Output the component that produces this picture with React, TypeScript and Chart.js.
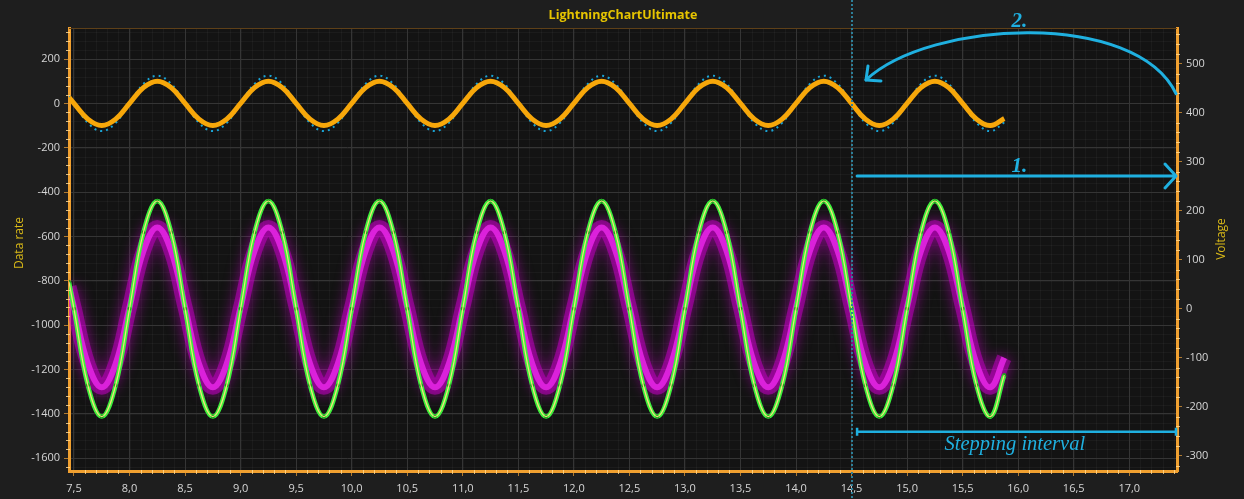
import React, { useEffect, useRef } from 'react';
import { Chart, registerables } from 'chart.js';

Chart.register(...registerables);

// ---------- data ----------
const xValues = [
  7.455,
  7.5, 7.625, 7.75, 7.875, 8.0, 8.125, 8.25, 8.375,
  8.5, 8.625, 8.75, 8.875, 9.0, 9.125, 9.25, 9.375,
  9.5, 9.625, 9.75, 9.875, 10.0, 10.125, 10.25, 10.375,
  10.5, 10.625, 10.75, 10.875, 11.0, 11.125, 11.25, 11.375,
  11.5, 11.625, 11.75, 11.875, 12.0, 12.125, 12.25, 12.375,
  12.5, 12.625, 12.75, 12.875, 13.0, 13.125, 13.25, 13.375,
  13.5, 13.625, 13.75, 13.875, 14.0, 14.125, 14.25, 14.375,
  14.5, 14.625, 14.75, 14.875, 15.0, 15.125, 15.25, 15.375,
  15.5, 15.625, 15.75, 15.875,
];

// Data rate (left axis)
const dataRate = [
  27,
  0, -71, -100, -71, 0, 71, 100, 71,
  0, -71, -100, -71, 0, 71, 100, 71,
  0, -71, -100, -71, 0, 71, 100, 71,
  0, -71, -100, -71, 0, 71, 100, 71,
  0, -71, -100, -71, 0, 71, 100, 71,
  0, -71, -100, -71, 0, 71, 100, 71,
  0, -71, -100, -71, 0, 71, 100, 71,
  0, -71, -100, -71, 0, 71, 100, 71,
  0, -71, -100, -68,
];

// Data rate envelope (dotted, left axis)
const dataRateEnvelope = [
  34,
  0, -88, -125, -88, 0, 88, 125, 88,
  0, -88, -125, -88, 0, 88, 125, 88,
  0, -88, -125, -88, 0, 88, 125, 88,
  0, -88, -125, -88, 0, 88, 125, 88,
  0, -88, -125, -88, 0, 88, 125, 88,
  0, -88, -125, -88, 0, 88, 125, 88,
  0, -88, -125, -88, 0, 88, 125, 88,
  0, -88, -125, -88, 0, 88, 125, 88,
  0, -88, -125, -86,
];

// Voltage (right axis)
const voltage = [
  55,
  0, -156, -220, -156, 0, 156, 220, 156,
  0, -156, -220, -156, 0, 156, 220, 156,
  0, -156, -220, -156, 0, 156, 220, 156,
  0, -156, -220, -156, 0, 156, 220, 156,
  0, -156, -220, -156, 0, 156, 220, 156,
  0, -156, -220, -156, 0, 156, 220, 156,
  0, -156, -220, -156, 0, 156, 220, 156,
  0, -156, -220, -156, 0, 156, 220, 156,
  0, -156, -220, -135,
];

// Voltage measured (magenta glow, right axis)
const voltageMeasured = [
  45,
  3, -112, -160, -112, 3, 118, 166, 118,
  3, -112, -160, -112, 3, 118, 166, 118,
  3, -112, -160, -112, 3, 118, 166, 118,
  3, -112, -160, -112, 3, 118, 166, 118,
  3, -112, -160, -112, 3, 118, 166, 118,
  3, -112, -160, -112, 3, 118, 166, 118,
  3, -112, -160, -112, 3, 118, 166, 118,
  3, -112, -160, -112, 3, 118, 166, 118,
  3, -112, -160, -100,
];

// tick labels
const xTicks = [7.5, 8.0, 8.5, 9.0, 9.5, 10.0, 10.5, 11.0, 11.5, 12.0, 12.5, 13.0, 13.5, 14.0, 14.5, 15.0, 15.5, 16.0, 16.5, 17.0];
const yTicks = [200, 0, -200, -400, -600, -800, -1000, -1200, -1400, -1600];
const y1Ticks = [500, 400, 300, 200, 100, 0, -100, -200, -300];

// axes
const X_MIN = 7.455;
const X_MAX = 17.43;
const X_MINOR = 0.1;
const Y_MIN = -1658;
const Y_MAX = 340;
const Y_STEP = 200;
const Y_MINOR = 40;
const Y1_MIN = -331;
const Y1_MAX = 573;
const Y1_STEP = 100;
const Y1_MINOR = 20;

// annotation anchors (in axis values: x, right-axis)
const markerX = 14.5;
const stepStart = 14.55;
const arrow1Y = 271;
const label1 = { x: 16.01, y: 290, text: '1.' };
const label2 = { x: 16.01, y: 586, text: '2.' };
const curve2 = { start: [X_MAX, 439], c1: [17.06, 610], c2: [15.21, 590], end: [14.63, 467] };
const bracketY = -251;
const bracketLabel = { x: 15.97, y: -278, text: 'Stepping interval' };

const TITLE = 'LightningChartUltimate';
const LEFT_TITLE = 'Data rate';
const RIGHT_TITLE = 'Voltage';

const FONT = "'Open Sans', 'Noto Sans', sans-serif";
const CYAN = '#1fb0e0';

const fmt = (v: number) => v.toFixed(1).replace('.', ',');
const pts = (ys: number[]) => ys.map((y, i) => ({ x: xValues[i], y }));
const setTicks = (list: number[]) => (s: any) => {
  s.ticks = list.map((value) => ({ value }));
};

const bgPlugin = {
  id: 'bgPlugin',
  beforeDraw(chart: any) {
    const { ctx, chartArea: a, width, height } = chart;
    ctx.save();
    ctx.fillStyle = '#1e1e1e';
    ctx.fillRect(0, 0, width, height);
    ctx.fillStyle = '#131313';
    ctx.fillRect(a.left, a.top, a.right - a.left, a.bottom - a.top);
    // minor grid
    const xs = chart.scales.x;
    const ys = chart.scales.y;
    ctx.strokeStyle = 'rgba(255,255,255,0.035)';
    ctx.lineWidth = 1;
    ctx.beginPath();
    for (let i = Math.ceil(X_MIN / X_MINOR); i * X_MINOR <= X_MAX; i++) {
      const px = Math.round(xs.getPixelForValue(i * X_MINOR)) + 0.5;
      ctx.moveTo(px, a.top);
      ctx.lineTo(px, a.bottom);
    }
    for (let i = Math.ceil(Y_MIN / Y_MINOR); i * Y_MINOR <= Y_MAX; i++) {
      const py = Math.round(ys.getPixelForValue(i * Y_MINOR)) + 0.5;
      ctx.moveTo(a.left, py);
      ctx.lineTo(a.right, py);
    }
    ctx.stroke();
    ctx.restore();
  },
};

const glowPlugin = {
  id: 'glowPlugin',
  beforeDatasetDraw(chart: any, args: any) {
    const ds = chart.data.datasets[args.index];
    chart.ctx.save();
    if (ds.glow) {
      chart.ctx.shadowColor = ds.glow;
      chart.ctx.shadowBlur = 14;
    }
  },
  afterDatasetDraw(chart: any) {
    chart.ctx.restore();
  },
};

const overlayPlugin = {
  id: 'overlayPlugin',
  afterDraw(chart: any) {
    const { ctx, chartArea: a, height } = chart;
    const xs = chart.scales.x;
    const ys = chart.scales.y;
    const yr = chart.scales.y1;
    const px = (v: number) => xs.getPixelForValue(v);
    const py = (v: number) => yr.getPixelForValue(v);
    ctx.save();

    // top border
    ctx.strokeStyle = '#5e4018';
    ctx.lineWidth = 1;
    ctx.beginPath();
    ctx.moveTo(a.left, a.top + 0.5);
    ctx.lineTo(a.right, a.top + 0.5);
    ctx.stroke();

    // minor ticks on axis lines
    ctx.strokeStyle = 'rgba(255,214,140,0.85)';
    ctx.lineWidth = 1;
    ctx.beginPath();
    for (let i = Math.ceil(Y_MIN / Y_MINOR); i * Y_MINOR <= Y_MAX; i++) {
      if ((i * Y_MINOR) % Y_STEP === 0) continue;
      const y = Math.round(ys.getPixelForValue(i * Y_MINOR)) + 0.5;
      ctx.moveTo(a.left - 3, y);
      ctx.lineTo(a.left + 1, y);
    }
    for (let i = Math.ceil(Y1_MIN / Y1_MINOR); i * Y1_MINOR <= Y1_MAX; i++) {
      if ((i * Y1_MINOR) % Y1_STEP === 0) continue;
      const y = Math.round(yr.getPixelForValue(i * Y1_MINOR)) + 0.5;
      ctx.moveTo(a.right - 1, y);
      ctx.lineTo(a.right + 3, y);
    }
    for (let i = Math.ceil(X_MIN / X_MINOR); i * X_MINOR <= X_MAX; i++) {
      if (i % 5 === 0) continue;
      const x = Math.round(px(i * X_MINOR)) + 0.5;
      ctx.moveTo(x, a.bottom - 1);
      ctx.lineTo(x, a.bottom + 3);
    }
    ctx.stroke();

    // vertical dotted marker
    ctx.strokeStyle = '#2d7f98';
    ctx.lineWidth = 2;
    ctx.setLineDash([2, 2]);
    ctx.beginPath();
    const mx = Math.round(px(markerX));
    ctx.moveTo(mx, 0);
    ctx.lineTo(mx, height);
    ctx.stroke();
    ctx.setLineDash([]);

    // annotations
    ctx.strokeStyle = CYAN;
    ctx.fillStyle = CYAN;
    ctx.lineWidth = 3;
    ctx.lineCap = 'round';
    ctx.lineJoin = 'round';

    // arrow 1
    const ay = py(arrow1Y);
    const ax0 = px(stepStart);
    const ax1 = px(X_MAX) - 1;
    ctx.beginPath();
    ctx.moveTo(ax0, ay);
    ctx.lineTo(ax1, ay);
    ctx.moveTo(ax1 - 11, ay - 12);
    ctx.lineTo(ax1, ay);
    ctx.lineTo(ax1 - 11, ay + 12);
    ctx.stroke();

    // curved arrow 2
    const s = curve2.start, c1 = curve2.c1, c2 = curve2.c2, e = curve2.end;
    ctx.beginPath();
    ctx.moveTo(px(s[0]) - 1, py(s[1]));
    ctx.bezierCurveTo(px(c1[0]), py(c1[1]), px(c2[0]), py(c2[1]), px(e[0]), py(e[1]));
    ctx.stroke();
    const ex = px(e[0]), ey = py(e[1]);
    ctx.beginPath();
    ctx.moveTo(ex + 15, ey + 1);
    ctx.lineTo(ex, ey);
    ctx.lineTo(ex + 2, ey - 14);
    ctx.stroke();

    // bracket
    const by = py(bracketY);
    ctx.lineWidth = 2.5;
    ctx.lineCap = 'butt';
    ctx.beginPath();
    ctx.moveTo(ax0, by);
    ctx.lineTo(ax1, by);
    ctx.moveTo(ax0, by - 4);
    ctx.lineTo(ax0, by + 4);
    ctx.moveTo(ax1, by - 4);
    ctx.lineTo(ax1, by + 4);
    ctx.stroke();

    ctx.textAlign = 'center';
    ctx.textBaseline = 'middle';
    ctx.font = "italic bold 21px 'Liberation Serif', serif";
    ctx.fillText(label1.text, px(label1.x), py(label1.y));
    ctx.fillText(label2.text, px(label2.x), py(label2.y));
    ctx.font = "italic 20.5px 'Liberation Serif', serif";
    ctx.fillText(bracketLabel.text, px(bracketLabel.x), py(bracketLabel.y));

    // title
    ctx.fillStyle = '#e6c400';
    ctx.font = `bold 12.5px ${FONT}`;
    ctx.fillText(TITLE, (a.left + a.right) / 2, 15);

    // axis titles
    ctx.fillStyle = '#d8b818';
    ctx.font = `12px ${FONT}`;
    ctx.save();
    ctx.translate(20, 243);
    ctx.rotate(-Math.PI / 2);
    ctx.fillText(LEFT_TITLE, 0, 0);
    ctx.restore();
    ctx.save();
    ctx.translate(1222, 239);
    ctx.rotate(-Math.PI / 2);
    ctx.fillText(RIGHT_TITLE, 0, 0);
    ctx.restore();

    ctx.restore();
  },
};

export default function App() {
  const ref = useRef<HTMLCanvasElement>(null);

  useEffect(() => {
    if (!ref.current) return;
    const axisBorder = { color: '#f0a030', width: 3 };
    const tickFont = { family: FONT, size: 11 };
    const chart = new Chart(ref.current, {
      type: 'line',
      data: {
        datasets: [
          {
            label: 'Voltage center',
            data: pts(voltage),
            yAxisID: 'y1',
            borderColor: '#f3e27c',
            borderWidth: 1.2,
            tension: 0.4,
            pointRadius: 0,
            order: 0,
          },
          {
            label: 'Voltage',
            data: pts(voltage),
            yAxisID: 'y1',
            borderColor: '#3cf03c',
            borderWidth: 4.5,
            tension: 0.4,
            pointRadius: 2,
            pointBackgroundColor: '#1f9f1f',
            pointBorderWidth: 0,
            order: 1,
          },
          {
            label: 'Measured core',
            data: pts(voltageMeasured),
            yAxisID: 'y1',
            borderColor: 'rgba(236,40,236,0.8)',
            borderWidth: 6,
            tension: 0.4,
            pointRadius: 0,
            order: 2,
          },
          {
            label: 'Measured glow',
            data: pts(voltageMeasured),
            yAxisID: 'y1',
            borderColor: 'rgba(200,0,200,0.5)',
            borderWidth: 15,
            tension: 0.4,
            pointRadius: 0,
            glow: 'rgba(220,0,220,1)',
            order: 3,
          } as any,
          {
            label: 'Data rate',
            data: pts(dataRate),
            yAxisID: 'y',
            borderColor: '#f7a70a',
            borderWidth: 5,
            tension: 0.4,
            pointRadius: 0,
            order: 4,
          },
          {
            label: 'Data rate envelope',
            data: pts(dataRateEnvelope),
            yAxisID: 'y',
            borderColor: '#1aa3d4',
            borderWidth: 2,
            borderDash: [2, 4],
            tension: 0.4,
            pointRadius: 0,
            order: 5,
          },
        ],
      },
      options: {
        responsive: false,
        animation: false,
        devicePixelRatio: 1,
        layout: { padding: { top: 28, left: 0, right: 0, bottom: 0 } },
        plugins: {
          legend: { display: false },
          title: { display: false },
          tooltip: { enabled: false },
        },
        scales: {
          x: {
            type: 'linear',
            position: 'bottom',
            min: X_MIN,
            max: X_MAX,
            border: axisBorder,
            grid: { color: '#353535', lineWidth: 1, tickLength: 5, tickColor: '#b07a30' },
            afterBuildTicks: setTicks(xTicks),
            ticks: {
              color: '#d6d6d6',
              font: tickFont,
              padding: 6,
              maxRotation: 0,
              autoSkip: false,
              callback: (v: any) => fmt(Number(v)),
            },
            afterFit: (s: any) => {
              s.height = 28;
            },
          },
          y: {
            type: 'linear',
            position: 'left',
            min: Y_MIN,
            max: Y_MAX,
            border: axisBorder,
            grid: { color: '#353535', lineWidth: 1, tickLength: 5, tickColor: '#b07a30' },
            afterBuildTicks: setTicks(yTicks),
            ticks: {
              color: '#d6d6d6',
              font: tickFont,
              padding: 4,
              autoSkip: false,
              callback: (v: any) => String(v),
            },
            afterFit: (s: any) => {
              s.width = 69;
            },
          },
          y1: {
            type: 'linear',
            position: 'right',
            min: Y1_MIN,
            max: Y1_MAX,
            border: axisBorder,
            grid: { drawOnChartArea: false, tickLength: 5, tickColor: '#b07a30' },
            afterBuildTicks: setTicks(y1Ticks),
            ticks: {
              color: '#d6d6d6',
              font: tickFont,
              padding: 4,
              autoSkip: false,
              callback: (v: any) => String(v),
            },
            afterFit: (s: any) => {
              s.width = 67;
            },
          },
        },
      } as any,
      plugins: [bgPlugin, glowPlugin, overlayPlugin],
    });
    return () => chart.destroy();
  }, []);

  return (
    <div style={{ position: 'fixed', left: 0, top: 0, width: 1244, height: 499, background: '#1e1e1e' }}>
      <canvas ref={ref} width={1244} height={499} style={{ display: 'block' }} />
    </div>
  );
}
